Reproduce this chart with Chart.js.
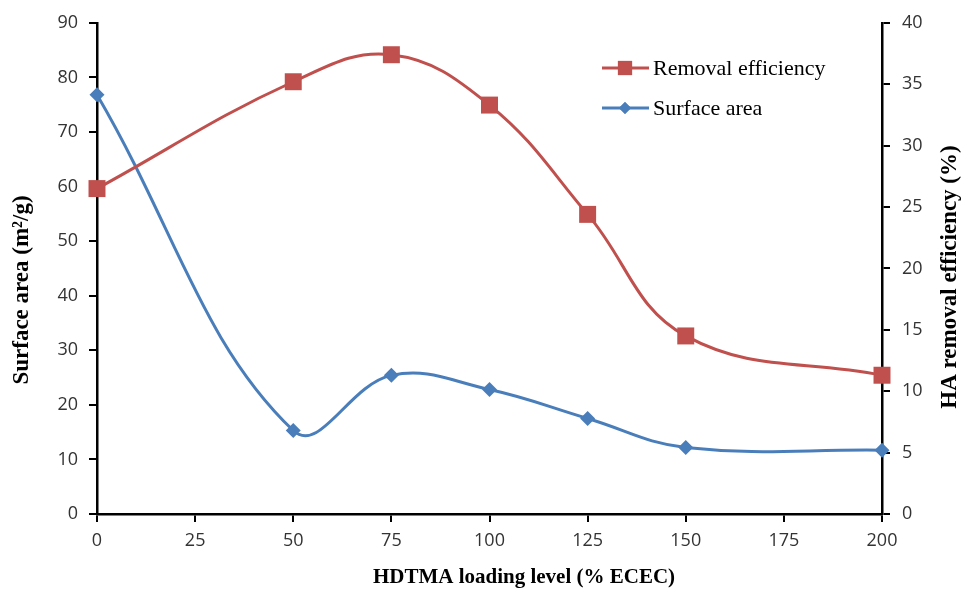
<!DOCTYPE html>
<html>
<head>
<meta charset="utf-8">
<script src="https://cdn.jsdelivr.net/npm/chart.js@4.4.0/dist/chart.umd.min.js"></script>
<style>
  html, body { margin: 0; padding: 0; background: #fff; }
  #container { width: 963px; height: 594px; position: relative; }
</style>
</head>
<body>
<div id="container"><canvas id="myChart" width="963" height="594"></canvas></div>
<script>
// data
let loadingLevels = [0, 50, 75, 100, 125, 150, 200];
let removalEfficiency = [26.5, 35.2, 37.4, 33.3, 24.4, 14.5, 11.3];
let surfaceArea = [76.8, 15.3, 25.4, 22.8, 17.5, 12.2, 11.7];

let seriesNames = ['Removal efficiency', 'Surface area'];
let xTitle = 'HDTMA loading level (% ECEC)';
let leftTitle = 'Surface area (m\u00B2/g)';
let rightTitle = 'HA removal efficiency (%)';

let removalColor = 'rgb(192,80,77)';
let surfaceColor = 'rgb(74,126,187)';

let tickFont = { family: '"Open Sans", sans-serif', size: 18 };
let tickColor = '#333';

function toPoints(xs, ys) {
  return xs.map((x, i) => ({ x: x, y: ys[i] }));
}

// titles and the legend inside the plot
const extraText = {
  id: 'extraText',
  afterDraw(chart) {
    const ctx = chart.ctx;
    ctx.save();
    ctx.fillStyle = '#000';
    ctx.textAlign = 'center';
    ctx.textBaseline = 'middle';
    ctx.font = 'bold 21px "Liberation Serif"';
    ctx.fillText(xTitle, 524, 578);

    ctx.font = 'bold 23px "Liberation Serif"';
    ctx.save();
    ctx.translate(22, 290);
    ctx.rotate(-Math.PI / 2);
    ctx.fillText(leftTitle, 0, 0);
    ctx.restore();

    ctx.save();
    ctx.translate(950, 277);
    ctx.rotate(-Math.PI / 2);
    ctx.fillText(rightTitle, 0, 0);
    ctx.restore();

    // legend
    let items = [
      { name: seriesNames[0], color: removalColor, style: 'rect', r: 10, y: 68 },
      { name: seriesNames[1], color: surfaceColor, style: 'rectRot', r: 6, y: 108 }
    ];
    ctx.font = '22px "Liberation Serif"';
    ctx.textAlign = 'left';
    ctx.textBaseline = 'alphabetic';
    items.forEach(it => {
      ctx.strokeStyle = it.color;
      ctx.lineWidth = 3;
      ctx.beginPath();
      ctx.moveTo(602, it.y);
      ctx.lineTo(649, it.y);
      ctx.stroke();
      ctx.fillStyle = it.color;
      Chart.helpers.drawPoint(ctx, { pointStyle: it.style, radius: it.r, rotation: 0, borderWidth: 0 }, 625, it.y);
      ctx.fill();
      ctx.fillStyle = '#000';
      ctx.fillText(it.name, 653, it.y + 7);
    });
    ctx.restore();
  }
};

let ctx = document.getElementById('myChart').getContext('2d');
let chart = new Chart(ctx, {
  type: 'line',
  data: {
    datasets: [
      {
        label: seriesNames[0],
        data: toPoints(loadingLevels, removalEfficiency),
        yAxisID: 'y1',
        borderColor: removalColor,
        backgroundColor: removalColor,
        borderWidth: 3,
        pointStyle: 'rect',
        pointRadius: 12,
        pointBorderWidth: 0,
        tension: 0.4,
        clip: false,
        fill: false
      },
      {
        label: seriesNames[1],
        data: toPoints(loadingLevels, surfaceArea),
        yAxisID: 'y',
        borderColor: surfaceColor,
        backgroundColor: surfaceColor,
        borderWidth: 3,
        pointStyle: 'rectRot',
        pointRadius: 7.5,
        pointBorderWidth: 0,
        tension: 0.4,
        clip: false,
        fill: false
      }
    ]
  },
  options: {
    responsive: false,
    animation: false,
    devicePixelRatio: 1,
    layout: { padding: { top: 20, left: 0, right: 0, bottom: 0 } },
    plugins: {
      legend: { display: false },
      tooltip: { enabled: false }
    },
    scales: {
      x: {
        type: 'linear',
        min: 0,
        max: 200,
        ticks: { stepSize: 25, font: tickFont, color: tickColor, padding: 8, maxRotation: 0 },
        grid: { drawOnChartArea: false, color: '#000', lineWidth: 2, tickLength: 8 },
        border: { color: '#000', width: 2.5 },
        afterFit(scale) { scale.height = 80; }
      },
      y: {
        position: 'left',
        min: 0,
        max: 90,
        ticks: { stepSize: 10, font: tickFont, color: tickColor, padding: 11 },
        grid: { drawOnChartArea: false, color: '#000', lineWidth: 2, tickLength: 8 },
        border: { color: '#000', width: 2.5 },
        afterFit(scale) { scale.width = 97; }
      },
      y1: {
        position: 'right',
        min: 0,
        max: 40,
        ticks: { stepSize: 5, font: tickFont, color: tickColor, padding: 12 },
        grid: { drawOnChartArea: false, color: '#000', lineWidth: 2, tickLength: 8 },
        border: { color: '#000', width: 2.5 },
        afterFit(scale) { scale.width = 81; }
      }
    }
  },
  plugins: [extraText]
});
</script>
</body>
</html>
